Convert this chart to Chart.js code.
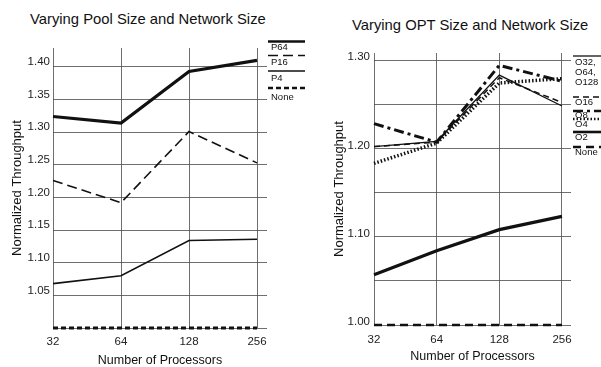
<!DOCTYPE html>
<html>
<head>
<meta charset="utf-8">
<script src="https://cdn.jsdelivr.net/npm/chart.js@4/dist/chart.umd.min.js"></script>
<style>
  html, body { margin: 0; padding: 0; background: #fff; }
  body { width: 601px; height: 367px; position: relative; overflow: hidden; font-family: "Liberation Sans", Arial, sans-serif; }
  canvas { position: absolute; top: 0; }
  .title { position: absolute; font-size: 14.8px; line-height: 17px; color: #111; white-space: nowrap; }
</style>
</head>
<body>
<div class="title" style="left:30px; top:11px;">Varying Pool Size and Network Size</div>
<div class="title" style="left:352px; top:17px;">Varying OPT Size and Network Size</div>
<canvas id="left" width="305" height="367" style="left:0px"></canvas>
<canvas id="right" width="301" height="367" style="left:300px"></canvas>
<script>
// ---- data ----
const processors = [32, 64, 128, 256];

// Left panel: pool size
const poolLabels = ['P64', 'P16', 'P4', 'None'];
const poolP64  = [1.324, 1.314, 1.393, 1.410];
const poolP16  = [1.226, 1.192, 1.301, 1.253];
const poolP4   = [1.068, 1.080, 1.134, 1.136];
const poolNone = [1.000, 1.000, 1.000, 1.000];
const poolGridValues = [1.00, 1.05, 1.10, 1.15, 1.20, 1.25, 1.30, 1.35, 1.40];
const poolTickLabels = ['1.05', '1.10', '1.15', '1.20', '1.25', '1.30', '1.35', '1.40'];

// Right panel: OPT size
const optLabels = ['O32, O64, O128', 'O16', 'O8', 'O4', 'O2', 'None'];
const optO32   = [1.202, 1.208, 1.283, 1.248];
const optO16   = [1.202, 1.207, 1.280, 1.252];
const optO8    = [1.228, 1.207, 1.294, 1.276];
const optO4    = [1.183, 1.206, 1.274, 1.279];
const optO2    = [1.057, 1.084, 1.108, 1.123];
const optNone  = [1.000, 1.000, 1.000, 1.000];
const optGridValues = [1.00, 1.05, 1.10, 1.15, 1.20, 1.25, 1.30];
const optTickLabels = ['1.00', '1.10', '1.20', '1.30'];

const axisTitle = 'Normalized Throughput';
const xTitle = 'Number of Processors';

// ---- helpers ----
const FONT = '"Liberation Sans", Arial, sans-serif';
const toPts = arr => arr.map((v, i) => ({ x: i, y: v }));

function ds(label, values, width, dash) {
  return {
    label, data: toPts(values),
    borderColor: '#111', backgroundColor: '#111',
    borderWidth: width, borderDash: dash || [],
    pointRadius: 0, tension: 0, clip: false, fill: false,
    borderCapStyle: 'butt', borderJoinStyle: 'miter'
  };
}

// custom legend drawn in the right margin: a line above each label
const sideLegend = {
  id: 'sideLegend',
  afterDraw(chart, args, opts) {
    const ctx = chart.ctx;
    ctx.save();
    chart.data.datasets.forEach((d, i) => {
      const e = opts.entries[i];
      ctx.beginPath();
      ctx.setLineDash(d.borderDash || []);
      ctx.lineWidth = Math.min(d.borderWidth, 2.6);
      ctx.strokeStyle = '#111';
      ctx.moveTo(opts.x1, e.line);
      ctx.lineTo(opts.x2, e.line);
      ctx.stroke();
      ctx.setLineDash([]);
      ctx.fillStyle = '#111';
      ctx.font = opts.font;
      ctx.textBaseline = 'middle';
      ctx.textAlign = 'left';
      const parts = d.label.split(' ');
      parts.forEach((p, k) => ctx.fillText(p, opts.tx, e.text + k * opts.lh));
    });
    ctx.restore();
  }
};

function makeChart(id, datasets, gridValues, tickLabels, cfg) {
  return new Chart(document.getElementById(id), {
    type: 'line',
    data: { datasets },
    plugins: [sideLegend],
    options: {
      responsive: false,
      animation: false,
      events: [],
      layout: { padding: cfg.padding },
      plugins: {
        legend: { display: false },
        tooltip: { enabled: false },
        title: { display: false },
        sideLegend: cfg.legend
      },
      scales: {
        x: {
          type: 'linear', min: 0, max: cfg.xMax,
          afterBuildTicks: s => { s.ticks = processors.map((p, i) => ({ value: i })); },
          afterFit: s => { s.height = cfg.xHeight; },
          ticks: {
            callback: v => String(processors[v]),
            font: { family: FONT, size: 11.5 }, color: '#222',
            padding: cfg.xTickPad, maxRotation: 0, autoSkip: false
          },
          grid: { color: '#4a4a4a', lineWidth: 0.8, drawTicks: false },
          border: { display: false },
          title: {
            display: true, text: xTitle, color: '#111',
            font: { family: FONT, size: 12.5, lineHeight: 1 },
            padding: { top: 0, bottom: cfg.xTitlePad }
          }
        },
        y: {
          type: 'linear', min: cfg.yMin, max: cfg.yMax,
          afterBuildTicks: s => { s.ticks = gridValues.map(v => ({ value: v })); },
          afterFit: s => { s.width = cfg.yWidth; },
          ticks: {
            callback: v => tickLabels.includes(v.toFixed(2)) ? v.toFixed(2) : '',
            font: { family: FONT, size: 11.5 }, color: '#222',
            padding: cfg.yTickPad, labelOffset: cfg.yLabelOffset, autoSkip: false
          },
          grid: { color: '#4a4a4a', lineWidth: 0.8, drawTicks: false },
          border: { display: false },
          title: {
            display: true, text: axisTitle, color: '#111',
            font: { family: FONT, size: 13, lineHeight: 1.2 },
            padding: { top: cfg.yTitlePad, bottom: 0 }
          }
        }
      }
    }
  });
}

makeChart('left', [
  ds(poolLabels[0], poolP64, 3.2),
  ds(poolLabels[1], poolP16, 1.6, [10, 5]),
  ds(poolLabels[2], poolP4, 1.6),
  ds(poolLabels[3], poolNone, 2.8, [5, 3])
], poolGridValues, poolTickLabels, {
  padding: { top: 48, right: 38, bottom: 0, left: 0 },
  xMax: 3.147, yMin: 1.0, yMax: 1.429,
  xHeight: 39, yWidth: 53, xTickPad: 7, yTickPad: 3, yLabelOffset: -5,
  xTitlePad: 0, yTitlePad: 9.7,
  legend: {
    x1: 268, x2: 305, tx: 271, lh: 10, font: '9.5px ' + FONT,
    entries: [
      { line: 41.5, text: 47 },
      { line: 55.5, text: 62 },
      { line: 71, text: 78 },
      { line: 88, text: 97 }
    ]
  }
});

makeChart('right', [
  ds(optLabels[0], optO32, 1.3),
  ds(optLabels[1], optO16, 1.5, [6, 4]),
  ds(optLabels[2], optO8, 3, [10, 4, 3, 4]),
  ds(optLabels[3], optO4, 3.5, [1.5, 2]),
  ds(optLabels[4], optO2, 3.2),
  ds(optLabels[5], optNone, 2.6, [8, 5])
], optGridValues, optTickLabels, {
  padding: { top: 53, right: 30, bottom: 0, left: 0 },
  xMax: 3.144, yMin: 1.0, yMax: 1.308,
  xHeight: 42, yWidth: 74, xTickPad: 8, yTickPad: 4, yLabelOffset: -3,
  xTitlePad: 3.75, yTitlePad: 32,
  legend: {
    x1: 273, x2: 301, tx: 275, lh: 10, font: '9.5px ' + FONT,
    entries: [
      { line: 56, text: 62 },
      { line: 97, text: 102 },
      { line: 111, text: 115.5 },
      { line: 119, text: 124 },
      { line: 132, text: 137 },
      { line: 147, text: 152 }
    ]
  }
});
</script>
</body>
</html>
